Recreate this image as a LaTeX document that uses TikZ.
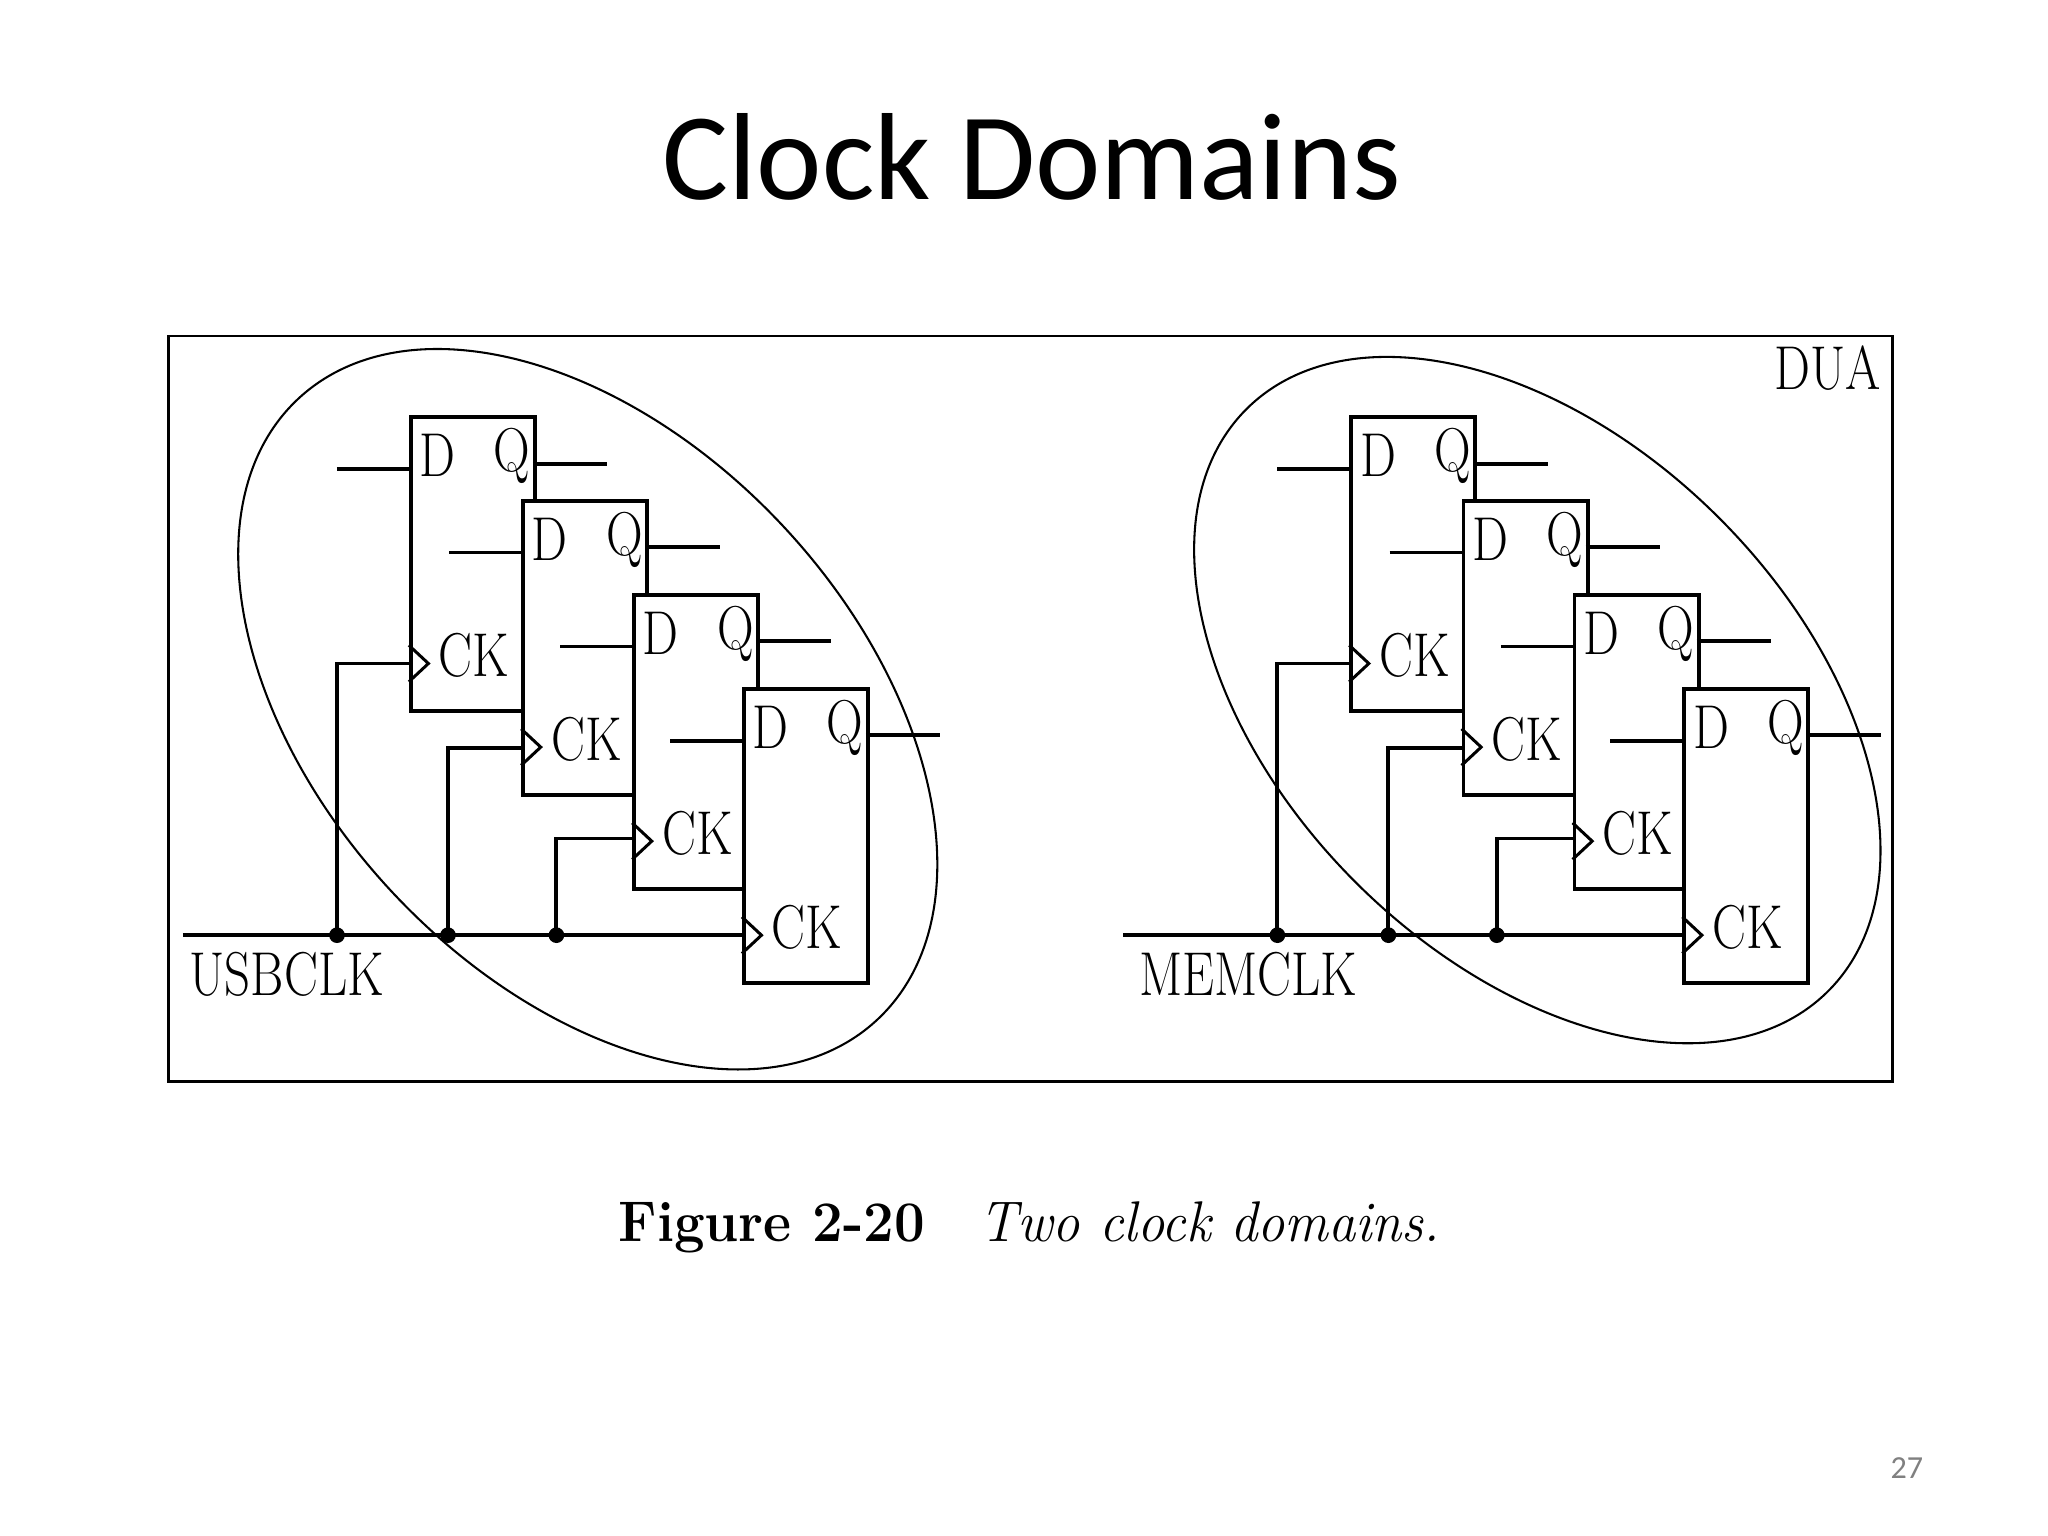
\documentclass[tikz,border=0pt]{standalone}
\usepackage{fontspec}
\newfontfamily\titlefont{Carlito}
\begin{document}
\begin{tikzpicture}[x=0.02cm,y=-0.02cm,
  ff/.style={draw,line width=1.7pt,fill=white,rectangle,minimum width=1.9cm,minimum height=4.5cm,anchor=north west,inner sep=0pt},
  wire/.style={line width=1.7pt},
  lbl/.style={font=\fontsize{27}{30}\selectfont,inner sep=0pt,xscale=0.82},
  dot/.style={circle,fill=black,inner sep=0pt,minimum size=0.24cm}]
\useasboundingbox (0,0) rectangle (1568,1176);
\node[font=\titlefont\fontsize{54}{62}\selectfont] (title) at (790,120) {Clock Domains};
\draw[line width=1pt] (129,257) rectangle (1449,828);
\node[lbl,anchor=north east] (dua) at (1440,264) {DUA};
\foreach \s/\o/\cx/\cy/\ang/\ra/\rb in {L/0/450/543/-47/325/205, R/720/1177/536/-45/315/197}{
  \draw[line width=0.9pt] (\cx,\cy) ellipse[x radius=\ra, y radius=\rb, rotate=\ang];
  \foreach \i/\x/\y in {1/313/318, 2/399/382, 3/484/454, 4/568/526}{
    \node[ff] (ff\s\i) at (\x+\o,\y) {};
    \node[lbl] (d\s\i) at (\x+\o+22,\y+31) {D};
    \node[lbl] (q\s\i) at (\x+\o+79,\y+31) {Q};
    \node[lbl] (ck\s\i) at (\x+\o+50,\y+184) {CK};
    \coordinate (din\s\i) at (\x+\o-55,\y+41);
    \coordinate (qo\s\i) at (\x+\o+152,\y+37);
    \draw[wire] (din\s\i) -- (\x+\o,\y+41);
    \draw[wire] (\x+\o+95,\y+37) -- (qo\s\i);
    \draw[line width=1.3pt] (\x+\o,\y+176) -- (\x+\o+15,\y+190) -- (\x+\o,\y+204);
  }
  \coordinate (cs\s) at (140+\o,716);
  \draw[wire] (cs\s) -- (568+\o,716);
  \foreach \j/\dx/\ty/\tx in {1/258/508/313, 2/343/573/399, 3/426/642/484}{
    \node[dot] (dot\s\j) at (\dx+\o,716) {};
    \draw[wire] (dot\s\j.center) -- (\dx+\o,\ty) -- (\tx+\o,\ty);
  }
}
\node[lbl,anchor=west] (clkL) at (145,746) {USBCLK};
\node[lbl,anchor=west] (clkR) at (872,746) {MEMCLK};
\node[font=\fontsize{25}{30}\selectfont,inner sep=0pt,xscale=0.95] (cap) at (788,940) {\textbf{Figure 2-20}\quad \textit{Two clock domains.}};
\node[font=\titlefont\fontsize{14}{16}\selectfont,text=gray] (pg) at (1460,1124) {27};
\end{tikzpicture}
\end{document}
